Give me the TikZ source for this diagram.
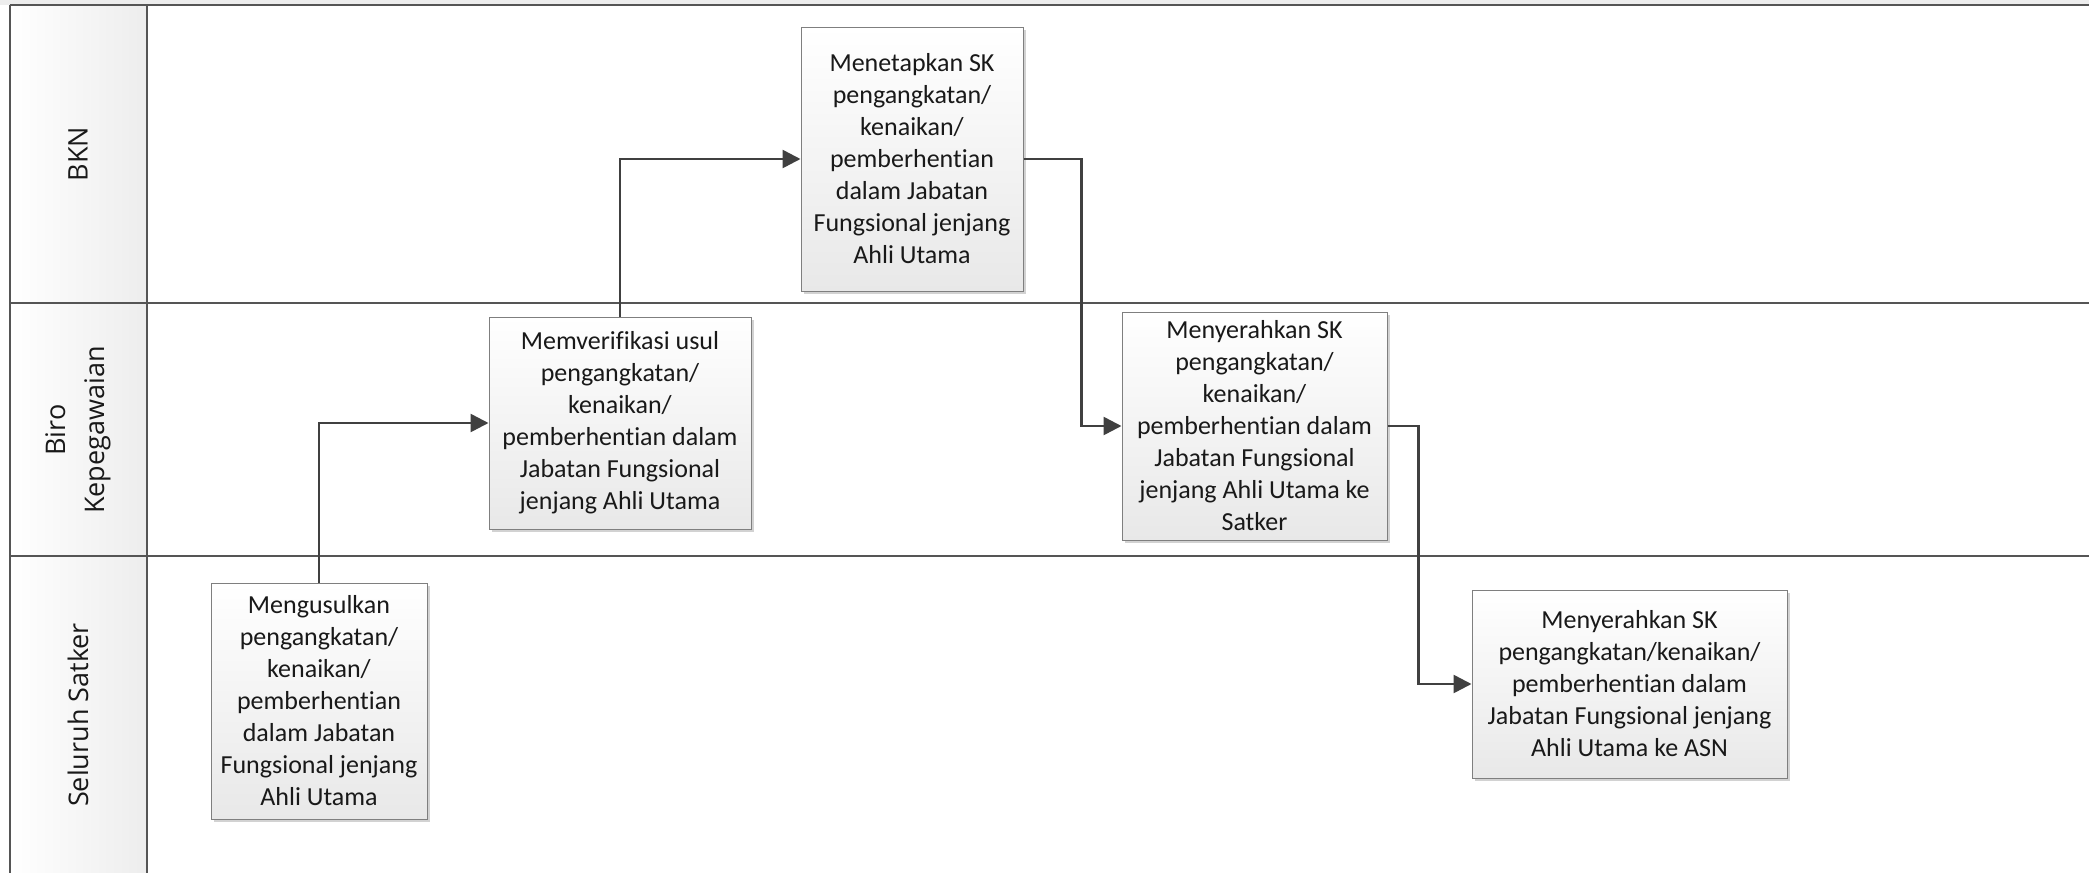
\documentclass[tikz,border=0pt]{standalone}
\usepackage{fontspec}
\setmainfont{Carlito}[Ligatures=NoCommon]
\newfontfamily\lanefont{Open Sans}
\usetikzlibrary{arrows.meta,shadows}
\definecolor{linegray}{HTML}{404040}
\definecolor{lanegray}{HTML}{555555}
\definecolor{boxborder}{HTML}{7F7F7F}
\tikzset{
  procbox/.style={draw=boxborder, line width=1pt, top color=white, bottom color=black!9,
    align=center, inner sep=4pt, text=black!90,
    font=\fontsize{26pt}{32pt}\selectfont,
    drop shadow={shadow xshift=3pt, shadow yshift=-3pt, fill=black!35, opacity=0.5}},
  flow/.style={draw=linegray, line width=2.6pt, -{Triangle[length=18pt,width=18pt]}},
  laneline/.style={draw=lanegray, line width=2pt},
  lanelabel/.style={rotate=90, align=center, font=\lanefont\fontsize{27pt}{39pt}\selectfont, text=black!90}
}
\begin{document}
\begin{tikzpicture}[x=1pt,y=-1pt]
\useasboundingbox (0,0) rectangle (2089,873);
% background
\fill[white] (0,0) rectangle (2089,873);
\fill[black!7] (0,0) rectangle (2089,5);
% lane headers
\shade[left color=white, right color=black!7] (10,5) rectangle (147,873);
% lane lines
\draw[laneline] (10,5) -- (2089,5);
\draw[laneline] (10,303) -- (2089,303);
\draw[laneline] (10,556) -- (2089,556);
\draw[laneline] (10,5) -- (10,873);
\draw[laneline] (147,5) -- (147,873);
% lane labels
\node[lanelabel] (lbkn) at (78,154) {BKN};
\node[lanelabel] (lbiro) at (78,430) {Biro\\Kepegawaian};
\node[lanelabel] (lsat) at (78,715) {Seluruh Satker};
% process boxes
\node[procbox, minimum width=216pt, minimum height=236pt] (satker1) at (319,701)
  {Mengusulkan\\pengangkatan/\\kenaikan/\\pemberhentian\\dalam Jabatan\\Fungsional jenjang\\Ahli Utama};
\node[procbox, minimum width=262pt, minimum height=212pt] (biro1) at (620,423)
  {Memverifikasi usul\\pengangkatan/\\kenaikan/\\pemberhentian dalam\\Jabatan Fungsional\\jenjang Ahli Utama};
\node[procbox, minimum width=222pt, minimum height=264pt] (bkn1) at (912,159)
  {Menetapkan SK\\pengangkatan/\\kenaikan/\\pemberhentian\\dalam Jabatan\\Fungsional jenjang\\Ahli Utama};
\node[procbox, minimum width=265pt, minimum height=228pt] (biro2) at (1254.5,426)
  {Menyerahkan SK\\pengangkatan/\\kenaikan/\\pemberhentian dalam\\Jabatan Fungsional\\jenjang Ahli Utama ke\\Satker};
\node[procbox, minimum width=315pt, minimum height=188pt] (satker2) at (1629.5,684)
  {Menyerahkan SK\\pengangkatan/kenaikan/\\pemberhentian dalam\\Jabatan Fungsional jenjang\\Ahli Utama ke ASN};
% connectors
\draw[flow] (satker1.north) |- (biro1.west);
\draw[flow] (biro1.north) |- (bkn1.west);
\draw[flow] (bkn1.east) -- ++(58,0) |- (biro2.west);
\draw[flow] (biro2.east) -- ++(31,0) |- (satker2.west);
\end{tikzpicture}
\end{document}
